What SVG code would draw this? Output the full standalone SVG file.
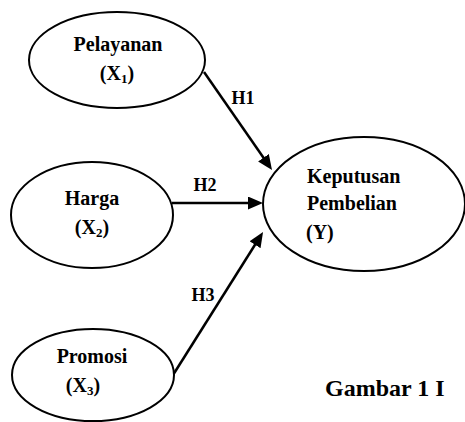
<svg xmlns="http://www.w3.org/2000/svg" width="465" height="422" viewBox="0 0 465 422">
<style>
.node ellipse{fill:#fff;stroke:#000;stroke-width:2}
.t{font-family:"Liberation Serif","Times New Roman",serif;font-weight:bold;font-size:20px;fill:#000}
.c{text-anchor:middle}
.lbl{font-family:"Liberation Serif","Times New Roman",serif;font-weight:bold;font-size:18px;fill:#000;text-anchor:middle}
.edge{stroke:#000;stroke-width:2.5;fill:none;marker-end:url(#ah)}
.sub{font-size:13px}
</style>
<defs>
<marker id="ah" markerUnits="userSpaceOnUse" markerWidth="15" markerHeight="13" refX="5" refY="6.5" orient="auto">
<path d="M0,0 L15,6.5 L0,13 z" fill="#000"/>
</marker>
</defs>
<rect width="465" height="422" fill="#fff"/>
<g id="connectors">
<line class="edge" x1="204" y1="72" x2="266.3" y2="161.8"/>
<line class="edge" x1="172" y1="203" x2="253" y2="203"/>
<line class="edge" x1="173" y1="375" x2="257.7" y2="240.5"/>
<text class="lbl" x="243" y="104">H1</text>
<text class="lbl" x="205" y="191">H2</text>
<text class="lbl" x="203" y="301">H3</text>
</g>
<g id="pelayanan" class="node">
<ellipse cx="117" cy="60" rx="88" ry="48"/>
<text class="t c" x="118" y="51">Pelayanan</text>
<text class="t c" x="117" y="80">(X<tspan class="sub" dy="3">1</tspan><tspan dy="-3">)</tspan></text>
</g>
<g id="harga" class="node">
<ellipse cx="92" cy="215" rx="81" ry="53"/>
<text class="t c" x="92" y="205">Harga</text>
<text class="t c" x="92" y="234">(X<tspan class="sub" dy="3">2</tspan><tspan dy="-3">)</tspan></text>
</g>
<g id="promosi" class="node">
<ellipse cx="93" cy="375" rx="81" ry="46"/>
<text class="t c" x="92" y="363">Promosi</text>
<text class="t c" x="83" y="392">(X<tspan class="sub" dy="3">3</tspan><tspan dy="-3">)</tspan></text>
</g>
<g id="keputusan" class="node">
<ellipse cx="364" cy="204" rx="101" ry="67"/>
<text class="t" x="307" y="183">Keputusan</text>
<text class="t" x="307" y="210">Pembelian</text>
<text class="t" x="306" y="239">(Y)</text>
</g>
<text class="t" x="325" y="396" style="font-size:24px">Gambar 1 I</text>
</svg>
